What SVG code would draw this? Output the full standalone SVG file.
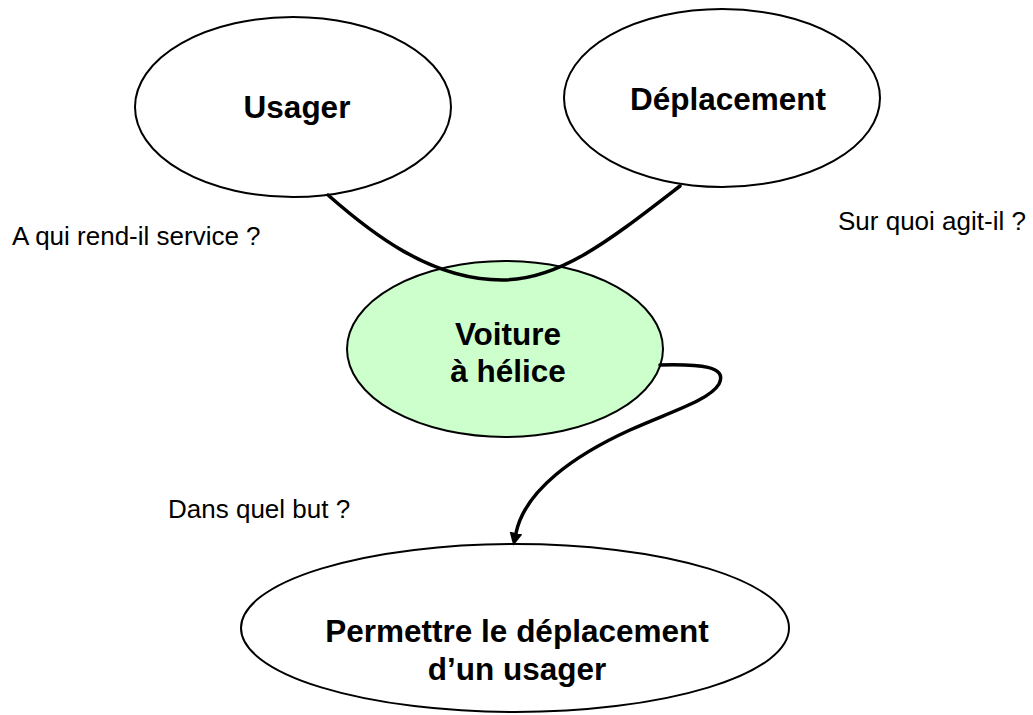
<svg xmlns="http://www.w3.org/2000/svg" width="1033" height="715" viewBox="0 0 1033 715">
  <style>
    .node { fill: #ffffff; stroke: #000000; stroke-width: 2; }
    .main { fill: #ccffcc; }
    .title { font-family: "Liberation Sans", Arial, sans-serif; font-weight: bold; font-size: 31.5px; fill: #000; text-anchor: middle; }
    .note { font-family: "Liberation Sans", Arial, sans-serif; font-size: 26px; fill: #000; }
    .link { fill: none; stroke: #000000; stroke-width: 3.5; stroke-linecap: round; }
  </style>
  <defs>
    <marker id="arrow" markerWidth="13" markerHeight="13" refX="0" refY="6.5" orient="auto" markerUnits="userSpaceOnUse" viewBox="0 0 13 13">
      <path d="M0,0 L13,6.5 L0,13 z" fill="#000"/>
    </marker>
  </defs>
  <rect width="1033" height="715" fill="#ffffff"/>

  <g id="usager">
    <ellipse class="node" cx="293" cy="107" rx="158" ry="90"/>
    <text class="title" x="297" y="118">Usager</text>
  </g>

  <g id="deplacement">
    <ellipse class="node" cx="722" cy="98" rx="158" ry="89"/>
    <text class="title" x="728" y="110">Déplacement</text>
  </g>

  <g id="voiture">
    <ellipse class="node main" cx="505" cy="349" rx="158" ry="88"/>
    <text class="title" x="508" y="345">Voiture</text>
    <text class="title" x="508" y="382">à hélice</text>
  </g>

  <g id="fonction">
    <ellipse class="node" cx="515" cy="628" rx="274" ry="84"/>
    <text class="title" x="517" y="642">Permettre le déplacement</text>
    <text class="title" x="517" y="680">d’un usager</text>
  </g>

  <!-- curves linking the nodes, drawn over the ellipses -->
  <g id="connectors">
    <path class="link" d="M328,195 C370,232 430,280 502,280 C560,280 610,240 680,186"/>
    <path class="link" d="M660,365 C700,364 728,366 719,384 C710,400 670,412 630,430 C575,455 525,490 516,533" marker-end="url(#arrow)"/>
  </g>

  <g id="questions">
    <text class="note" x="12" y="245">A qui rend-il service ?</text>
    <text class="note" x="838" y="230">Sur quoi agit-il ?</text>
    <text class="note" x="168" y="518">Dans quel but ?</text>
  </g>
</svg>
